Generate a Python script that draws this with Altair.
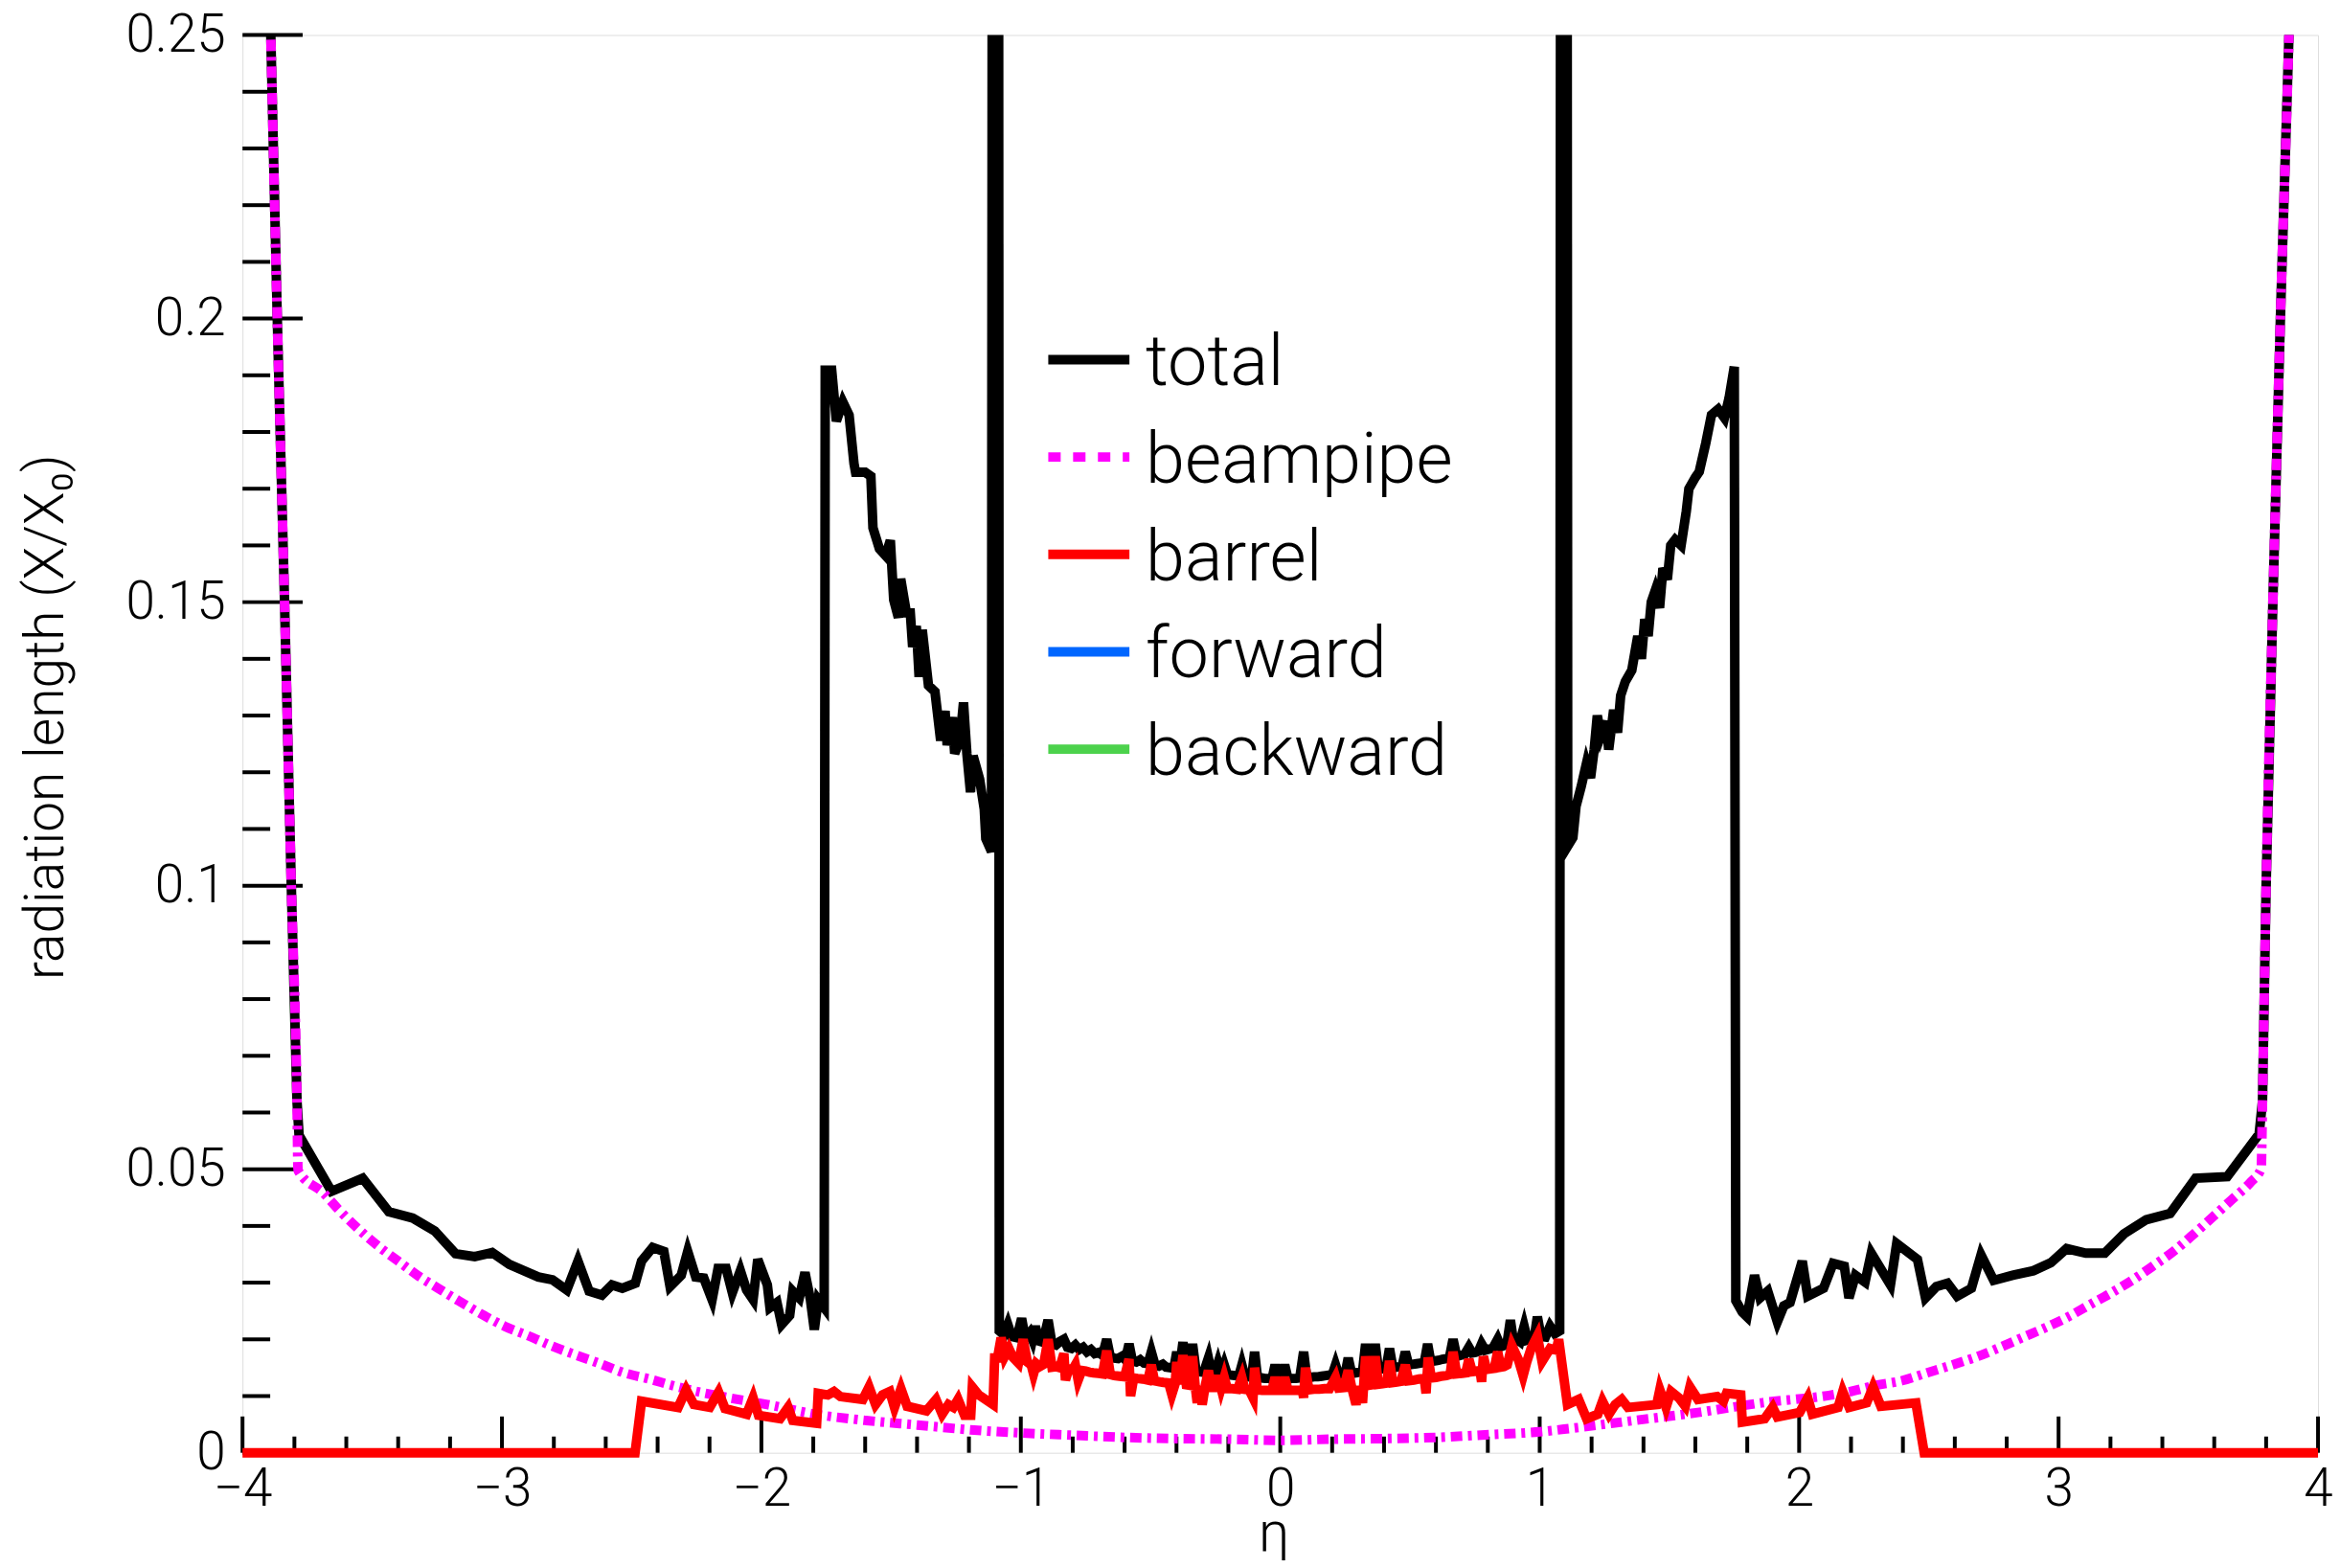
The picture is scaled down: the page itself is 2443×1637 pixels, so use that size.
import altair as alt
import pandas as pd

FONT = "Roboto"

# ---------------- axis ticks ----------------
X_TICK_LABELS = [-4, -3, -2, -1, 0, 1, 2, 3, 4]
X_MINOR = [-3.8, -3.6, -3.4, -3.2, -2.8, -2.6, -2.4, -2.2, -1.8, -1.6, -1.4, -1.2,
           -0.8, -0.6, -0.4, -0.2, 0.2, 0.4, 0.6, 0.8, 1.2, 1.4, 1.6, 1.8,
           2.2, 2.4, 2.6, 2.8, 3.2, 3.4, 3.6, 3.8]
Y_TICK_LABELS = [0, 0.05, 0.1, 0.15, 0.2, 0.25]
Y_MINOR = [0.01, 0.02, 0.03, 0.04, 0.06, 0.07, 0.08, 0.09, 0.11, 0.12, 0.13, 0.14,
           0.16, 0.17, 0.18, 0.19, 0.21, 0.22, 0.23, 0.24]

# ---------------- total (black) ----------------
TOTAL_EDGE_LEFT = [(-3.96, 0.40), (-3.891, 0.25), (-3.866, 0.20), (-3.838, 0.15),
                   (-3.812, 0.10), (-3.790, 0.062)]
TOTAL_LEFT = [(-3.782, 0.0560), (-3.657, 0.0461), (-3.537, 0.0484), (-3.436, 0.0425),
              (-3.344, 0.0414), (-3.259, 0.0391), (-3.179, 0.0351), (-3.105, 0.0346),
              (-3.038, 0.0353), (-2.971, 0.0332), (-2.860, 0.0310), (-2.805, 0.0305),
              (-2.750, 0.0287), (-2.707, 0.0338), (-2.664, 0.0285), (-2.615, 0.0278),
              (-2.576, 0.0296), (-2.536, 0.0290), (-2.486, 0.0299), (-2.462, 0.0338),
              (-2.419, 0.0362), (-2.376, 0.0355), (-2.352, 0.0293), (-2.309, 0.0313),
              (-2.284, 0.0355), (-2.253, 0.0310), (-2.222, 0.0308), (-2.190, 0.0270),
              (-2.167, 0.0325), (-2.136, 0.0325), (-2.112, 0.0282), (-2.081, 0.0321),
              (-2.057, 0.0287), (-2.032, 0.0270), (-2.014, 0.0341), (-1.977, 0.0296),
              (-1.967, 0.0256), (-1.940, 0.0265), (-1.922, 0.0226), (-1.891, 0.0242),
              (-1.879, 0.0285), (-1.854, 0.0273), (-1.832, 0.0318), (-1.811, 0.0270),
              (-1.796, 0.0217), (-1.781, 0.0270), (-1.758, 0.0256)]
TOTAL_PEAK_LEFT = [(-1.754, 0.1909), (-1.729, 0.1909), (-1.711, 0.1819), (-1.686, 0.1853),
                   (-1.662, 0.1830), (-1.643, 0.1744), (-1.637, 0.1729), (-1.600, 0.1729),
                   (-1.578, 0.1722), (-1.570, 0.1631), (-1.545, 0.1594), (-1.521, 0.1582),
                   (-1.503, 0.1609), (-1.490, 0.1504), (-1.472, 0.1473), (-1.463, 0.1541),
                   (-1.441, 0.1481), (-1.426, 0.1481), (-1.417, 0.1421), (-1.403, 0.1458),
                   (-1.392, 0.1368), (-1.380, 0.1451), (-1.356, 0.1353), (-1.331, 0.1342),
                   (-1.309, 0.1256), (-1.292, 0.1308), (-1.284, 0.1248), (-1.264, 0.1297),
                   (-1.255, 0.1233), (-1.235, 0.1256), (-1.221, 0.1323), (-1.208, 0.1233),
                   (-1.194, 0.1165), (-1.184, 0.1229), (-1.159, 0.1188), (-1.141, 0.1135),
                   (-1.135, 0.1083), (-1.113, 0.1060),
                   (-1.108, 0.40), (-1.087, 0.40)]
TOTAL_CENTRAL = [(-1.083, 0.0215), (-1.065, 0.0208), (-1.050, 0.0226), (-1.035, 0.0205),
                 (-1.015, 0.0203), (-0.997, 0.0237), (-0.983, 0.0202), (-0.965, 0.0212),
                 (-0.955, 0.0200), (-0.944, 0.0223), (-0.930, 0.0197), (-0.915, 0.0195),
                 (-0.895, 0.0234), (-0.880, 0.0192), (-0.865, 0.0190), (-0.850, 0.0196),
                 (-0.834, 0.0200), (-0.820, 0.0186), (-0.805, 0.0184), (-0.790, 0.0190),
                 (-0.775, 0.0182), (-0.760, 0.0186), (-0.745, 0.0178), (-0.730, 0.0182),
                 (-0.715, 0.0175), (-0.700, 0.0177), (-0.685, 0.0172), (-0.669, 0.0200),
                 (-0.655, 0.0169), (-0.640, 0.0167), (-0.625, 0.0166), (-0.610, 0.0170),
                 (-0.597, 0.0164), (-0.583, 0.0192), (-0.570, 0.0162), (-0.555, 0.0160),
                 (-0.540, 0.0164), (-0.525, 0.0158), (-0.510, 0.0157), (-0.497, 0.0178),
                 (-0.483, 0.0155), (-0.468, 0.0153), (-0.453, 0.0156), (-0.440, 0.0151),
                 (-0.425, 0.0150), (-0.410, 0.0149), (-0.399, 0.0178), (-0.388, 0.0149),
                 (-0.375, 0.0195), (-0.362, 0.0147), (-0.350, 0.0146), (-0.338, 0.0192),
                 (-0.325, 0.0145), (-0.310, 0.0143), (-0.295, 0.0142), (-0.277, 0.0167),
                 (-0.265, 0.0141), (-0.252, 0.0140), (-0.240, 0.0158), (-0.228, 0.0139),
                 (-0.216, 0.0155), (-0.204, 0.0138), (-0.190, 0.0137), (-0.175, 0.0136),
                 (-0.160, 0.0135), (-0.148, 0.0155), (-0.136, 0.0134), (-0.122, 0.0134),
                 (-0.110, 0.0133), (-0.099, 0.0178), (-0.088, 0.0133), (-0.073, 0.0132),
                 (-0.058, 0.0131), (-0.045, 0.0131), (-0.032, 0.0130), (-0.020, 0.0155),
                 (-0.008, 0.0130), (0.005, 0.0130), (0.017, 0.0155), (0.030, 0.0130),
                 (0.045, 0.0131), (0.060, 0.0131), (0.075, 0.0132), (0.090, 0.0178),
                 (0.102, 0.0133), (0.115, 0.0133), (0.130, 0.0134), (0.145, 0.0134),
                 (0.160, 0.0135), (0.175, 0.0136), (0.190, 0.0137), (0.200, 0.0137),
                 (0.213, 0.0155), (0.225, 0.0138), (0.240, 0.0139), (0.250, 0.0139),
                 (0.262, 0.0167), (0.275, 0.0140), (0.290, 0.0141), (0.305, 0.0142),
                 (0.317, 0.0143), (0.329, 0.0192), (0.342, 0.0145), (0.354, 0.0146),
                 (0.366, 0.0192), (0.378, 0.0147), (0.392, 0.0148), (0.408, 0.0149),
                 (0.421, 0.0184), (0.434, 0.0150), (0.448, 0.0151), (0.462, 0.0152),
                 (0.470, 0.0153), (0.482, 0.0178), (0.495, 0.0155), (0.510, 0.0156),
                 (0.525, 0.0157), (0.540, 0.0158), (0.555, 0.0159), (0.568, 0.0192),
                 (0.580, 0.0161), (0.595, 0.0162), (0.610, 0.0163), (0.625, 0.0165),
                 (0.640, 0.0166), (0.652, 0.0168), (0.666, 0.0200), (0.680, 0.0170),
                 (0.695, 0.0172), (0.710, 0.0173), (0.727, 0.0186), (0.740, 0.0176),
                 (0.752, 0.0177), (0.764, 0.0179), (0.776, 0.0192), (0.790, 0.0181),
                 (0.805, 0.0183), (0.820, 0.0185), (0.838, 0.0200), (0.850, 0.0187),
                 (0.862, 0.0189), (0.875, 0.0196), (0.887, 0.0234), (0.900, 0.0193),
                 (0.912, 0.0200), (0.924, 0.0196), (0.940, 0.0223), (0.953, 0.0199),
                 (0.967, 0.0201), (0.979, 0.0203), (0.991, 0.0240), (1.005, 0.0205),
                 (1.022, 0.0204), (1.040, 0.0223), (1.059, 0.0210), (1.077, 0.0215)]
TOTAL_PEAK_RIGHT = [(1.082, 0.40), (1.104, 0.40),
                    (1.108, 0.1070), (1.128, 0.1085), (1.140, 0.1140), (1.160, 0.1175),
                    (1.180, 0.1215), (1.196, 0.1190), (1.210, 0.1240), (1.222, 0.1300),
                    (1.236, 0.1265), (1.256, 0.1290), (1.266, 0.1240), (1.285, 0.1310),
                    (1.300, 0.1270), (1.312, 0.1335), (1.330, 0.1360), (1.355, 0.1380),
                    (1.378, 0.1440), (1.392, 0.1400), (1.405, 0.1470), (1.418, 0.1440),
                    (1.430, 0.1500), (1.445, 0.1520), (1.462, 0.1490), (1.475, 0.1560),
                    (1.492, 0.1540), (1.505, 0.1600), (1.522, 0.1610), (1.545, 0.1600),
                    (1.565, 0.1660), (1.575, 0.1700), (1.600, 0.1720), (1.615, 0.1730),
                    (1.640, 0.1780), (1.662, 0.1830), (1.688, 0.1840), (1.712, 0.1825),
                    (1.730, 0.1860), (1.750, 0.1915)]
TOTAL_RIGHT = [(1.756, 0.0268), (1.781, 0.0248), (1.799, 0.0240), (1.828, 0.0313),
               (1.849, 0.0273), (1.879, 0.0285), (1.916, 0.0231), (1.941, 0.0259),
               (1.965, 0.0265), (2.012, 0.0338), (2.033, 0.0276), (2.094, 0.0290),
               (2.131, 0.0334), (2.174, 0.0329), (2.192, 0.0273), (2.217, 0.0313),
               (2.254, 0.0301), (2.278, 0.0352), (2.352, 0.0296), (2.376, 0.0369),
               (2.456, 0.0341), (2.487, 0.0273), (2.529, 0.0293), (2.572, 0.0299),
               (2.609, 0.0276), (2.664, 0.0290), (2.701, 0.0349), (2.750, 0.0304),
               (2.823, 0.0313), (2.903, 0.0321), (2.970, 0.0335), (3.031, 0.0360),
               (3.105, 0.0352), (3.178, 0.0352), (3.252, 0.0386), (3.338, 0.0411),
               (3.430, 0.0422), (3.528, 0.0484), (3.650, 0.0487), (3.773, 0.0562)]
TOTAL_EDGE_RIGHT = [(3.786, 0.062), (3.800, 0.10), (3.826, 0.15), (3.855, 0.20),
                    (3.888, 0.25), (3.96, 0.40)]

# ---------------- beampipe (magenta) ----------------
BEAMPIPE_LEFT = [(-3.96, 0.40), (-3.891, 0.25), (-3.866, 0.20), (-3.838, 0.15),
                 (-3.812, 0.10), (-3.790, 0.062), (-3.786, 0.0498), (-3.688, 0.0458),
                 (-3.632, 0.0430), (-3.559, 0.0397), (-3.473, 0.0363), (-3.400, 0.0338),
                 (-3.326, 0.0313), (-3.246, 0.0290), (-3.167, 0.0268), (-3.069, 0.0242),
                 (-2.989, 0.0223), (-2.897, 0.0206), (-2.811, 0.0189), (-2.713, 0.0172),
                 (-2.627, 0.0158), (-2.529, 0.0141), (-2.431, 0.0130), (-2.346, 0.0119),
                 (-2.248, 0.0108), (-2.125, 0.0097), (-1.977, 0.0085), (-1.793, 0.0068),
                 (-1.597, 0.0057), (-1.400, 0.0049), (-1.180, 0.0040), (-1.000, 0.0035)]
BEAMPIPE_CENTRAL = [(-0.804, 0.0031), (-0.595, 0.0027), (-0.399, 0.0025), (-0.203, 0.0024),
                    (0.000, 0.0022), (0.203, 0.0024), (0.399, 0.0025), (0.595, 0.0027),
                    (0.804, 0.0032)]
BEAMPIPE_RIGHT = [(1.000, 0.0037), (1.120, 0.0043), (1.365, 0.0057), (1.610, 0.0071),
                  (1.855, 0.0088), (2.125, 0.0102), (2.199, 0.0108), (2.297, 0.0119),
                  (2.395, 0.0127), (2.493, 0.0141), (2.591, 0.0155), (2.683, 0.0169),
                  (2.775, 0.0186), (2.860, 0.0203), (2.946, 0.0220), (3.038, 0.0240),
                  (3.124, 0.0262), (3.203, 0.0282), (3.283, 0.0304), (3.363, 0.0329),
                  (3.448, 0.0357), (3.522, 0.0386), (3.595, 0.0416), (3.669, 0.0447),
                  (3.742, 0.0478), (3.781, 0.0501), (3.786, 0.062), (3.800, 0.10),
                  (3.826, 0.15), (3.855, 0.20), (3.888, 0.25), (3.96, 0.40)]

# ---------------- barrel (red) ----------------
BARREL_LEFT = [(-4.0, 0.0), (-2.487, 0.0), (-2.462, 0.0091), (-2.321, 0.0080), (-2.290, 0.0111),
               (-2.260, 0.0085), (-2.199, 0.0080), (-2.165, 0.0107), (-2.140, 0.0078),
               (-2.057, 0.0068), (-2.032, 0.0097), (-2.011, 0.0066), (-1.928, 0.0060),
               (-1.897, 0.0080), (-1.879, 0.0057), (-1.787, 0.0052), (-1.781, 0.0105),
               (-1.744, 0.0102), (-1.720, 0.0108), (-1.695, 0.0099), (-1.609, 0.0094),
               (-1.585, 0.0116), (-1.560, 0.0085), (-1.533, 0.0102), (-1.505, 0.0108),
               (-1.487, 0.0080), (-1.462, 0.0113), (-1.438, 0.0082), (-1.364, 0.0074),
               (-1.327, 0.0094), (-1.303, 0.0068), (-1.279, 0.0085), (-1.260, 0.0080),
               (-1.242, 0.0094), (-1.217, 0.0066), (-1.193, 0.0066), (-1.187, 0.0116),
               (-1.162, 0.0102), (-1.107, 0.0085), (-1.101, 0.0167)]
BARREL_CENTRAL = [(-1.090, 0.0167), (-1.076, 0.0203), (-1.062, 0.0170), (-1.046, 0.0184),
                  (-1.030, 0.0168), (-1.009, 0.0158), (-0.991, 0.0200), (-0.975, 0.0160),
                  (-0.960, 0.0155), (-0.951, 0.0139), (-0.940, 0.0157), (-0.927, 0.0152),
                  (-0.912, 0.0156), (-0.895, 0.0200), (-0.880, 0.0151), (-0.865, 0.0152),
                  (-0.850, 0.0150), (-0.834, 0.0175), (-0.828, 0.0128), (-0.815, 0.0148),
                  (-0.800, 0.0147), (-0.790, 0.0155), (-0.779, 0.0128), (-0.765, 0.0145),
                  (-0.750, 0.0144), (-0.735, 0.0142), (-0.720, 0.0141), (-0.700, 0.0140),
                  (-0.685, 0.0139), (-0.669, 0.0180), (-0.655, 0.0138), (-0.640, 0.0136),
                  (-0.620, 0.0135), (-0.600, 0.0134), (-0.583, 0.0165), (-0.577, 0.0100),
                  (-0.565, 0.0132), (-0.550, 0.0131), (-0.530, 0.0130), (-0.510, 0.0128),
                  (-0.497, 0.0155), (-0.485, 0.0127), (-0.465, 0.0125), (-0.450, 0.0124),
                  (-0.430, 0.0123), (-0.418, 0.0103), (-0.405, 0.0122), (-0.399, 0.0160),
                  (-0.388, 0.0121), (-0.375, 0.0172), (-0.362, 0.0120), (-0.350, 0.0119),
                  (-0.338, 0.0170), (-0.328, 0.0118), (-0.320, 0.0088), (-0.310, 0.0117),
                  (-0.301, 0.0085), (-0.290, 0.0116), (-0.277, 0.0145), (-0.265, 0.0115),
                  (-0.250, 0.0115), (-0.240, 0.0136), (-0.228, 0.0114), (-0.216, 0.0133),
                  (-0.204, 0.0113), (-0.185, 0.0113), (-0.165, 0.0112), (-0.148, 0.0133),
                  (-0.136, 0.0112), (-0.120, 0.0111), (-0.105, 0.0097), (-0.099, 0.0150),
                  (-0.088, 0.0111), (-0.070, 0.0110), (-0.050, 0.0110), (-0.032, 0.0110),
                  (-0.020, 0.0133), (-0.008, 0.0110), (0.005, 0.0110), (0.017, 0.0133),
                  (0.030, 0.0110), (0.050, 0.0110), (0.070, 0.0110), (0.085, 0.0111),
                  (0.090, 0.0097), (0.097, 0.0150), (0.110, 0.0111), (0.130, 0.0112),
                  (0.150, 0.0112), (0.170, 0.0113), (0.190, 0.0113), (0.213, 0.0133),
                  (0.225, 0.0114), (0.245, 0.0115), (0.262, 0.0145), (0.275, 0.0116),
                  (0.292, 0.0085), (0.305, 0.0117), (0.317, 0.0088), (0.329, 0.0170),
                  (0.342, 0.0119), (0.354, 0.0120), (0.366, 0.0170), (0.378, 0.0121),
                  (0.395, 0.0122), (0.410, 0.0123), (0.421, 0.0162), (0.434, 0.0124),
                  (0.450, 0.0125), (0.465, 0.0126), (0.482, 0.0155), (0.495, 0.0127),
                  (0.515, 0.0128), (0.535, 0.0130), (0.555, 0.0131), (0.562, 0.0105),
                  (0.570, 0.0168), (0.582, 0.0132), (0.600, 0.0133), (0.620, 0.0135),
                  (0.640, 0.0136), (0.655, 0.0138), (0.666, 0.0178), (0.680, 0.0139),
                  (0.700, 0.0140), (0.715, 0.0141), (0.727, 0.0165), (0.740, 0.0143),
                  (0.755, 0.0144), (0.770, 0.0145), (0.776, 0.0125), (0.783, 0.0170),
                  (0.795, 0.0147), (0.810, 0.0148), (0.825, 0.0149), (0.838, 0.0178),
                  (0.850, 0.0151), (0.862, 0.0152), (0.875, 0.0155), (0.893, 0.0189),
                  (0.918, 0.0164), (0.936, 0.0136), (0.950, 0.0160), (0.967, 0.0184),
                  (0.991, 0.0206), (1.009, 0.0161), (1.040, 0.0184), (1.064, 0.0181),
                  (1.073, 0.0200)]
BARREL_RIGHT = [(1.107, 0.0085), (1.150, 0.0094), (1.181, 0.0060), (1.224, 0.0068),
                (1.242, 0.0091), (1.267, 0.0068), (1.291, 0.0085), (1.316, 0.0094),
                (1.340, 0.0080), (1.451, 0.0085), (1.463, 0.0111), (1.487, 0.0080),
                (1.506, 0.0108), (1.536, 0.0097), (1.561, 0.0082), (1.579, 0.0116),
                (1.610, 0.0094), (1.684, 0.0099), (1.708, 0.0091), (1.720, 0.0105),
                (1.775, 0.0102), (1.781, 0.0054), (1.867, 0.0060), (1.898, 0.0080),
                (1.916, 0.0063), (2.002, 0.0071), (2.033, 0.0097), (2.051, 0.0068),
                (2.150, 0.0080), (2.168, 0.0108), (2.193, 0.0080), (2.260, 0.0088),
                (2.285, 0.0116), (2.315, 0.0082), (2.450, 0.0088), (2.482, 0.0), (4.0, 0.0)]

LEGEND_LABELS = ["total", "beampipe", "barrel", "forward", "backward"]
LEGEND_COLORS = ["#000000", "#ff00ff", "#ff0000", "#0066ff", "#4cd24c"]

W, H = 2174, 1485
LW = 10

X = alt.X("eta:Q",
          scale=alt.Scale(domain=[-4, 4], nice=False, zero=False),
          axis=alt.Axis(values=X_TICK_LABELS, format="d", ticks=False, tickSize=0,
                        domain=False, grid=False, labelFont=FONT, labelFontSize=55,
                        labelFontWeight=300, labelColor="black", labelPadding=12,
                        labelFlush=False, labelOverlap=False,
                        title="η", titleFont=FONT, titleFontSize=58, titleFontWeight=300,
                        titleColor="black", titleX=1080, titleY=102,
                        titleBaseline="alphabetic", titleAlign="center"))
Y = alt.Y("val:Q",
          scale=alt.Scale(domain=[0, 0.25], nice=False, zero=False),
          axis=alt.Axis(values=Y_TICK_LABELS, format="~g", ticks=False, tickSize=0,
                        domain=False, grid=False, labelFont=FONT, labelFontSize=55,
                        labelFontWeight=300, labelColor="black", labelPadding=18,
                        labelFlush=False, labelOverlap=False,
                        title="radiation length (X/X₀)", titleFont=FONT, titleFontSize=57,
                        titleFontWeight=300, titleColor="black", titleAngle=270,
                        titleX=-188, titleY=714, titleBaseline="alphabetic",
                        titleAlign="center"))


def frame(pts):
    df = pd.DataFrame({"eta": [p[0] for p in pts], "val": [p[1] for p in pts]})
    df["i"] = range(len(df))
    return df


def line_layer(pts, color, dash=None, interp="linear", clip=True, width=LW):
    kw = dict(color=color, strokeWidth=width, clip=clip, interpolate=interp)
    if dash:
        kw["strokeDash"] = dash
    return alt.Chart(frame(pts)).mark_line(**kw).encode(x=X, y=Y, order="i:Q")


layers = []
# inside ticks
layers.append(alt.Chart(pd.DataFrame({"val": Y_TICK_LABELS})).mark_rule(color="black", strokeWidth=4)
              .encode(y=Y, x=alt.value(0), x2=alt.value(63)))
layers.append(alt.Chart(pd.DataFrame({"val": Y_MINOR})).mark_rule(color="black", strokeWidth=4)
              .encode(y=Y, x=alt.value(0), x2=alt.value(29)))
layers.append(alt.Chart(pd.DataFrame({"eta": X_TICK_LABELS})).mark_rule(color="black", strokeWidth=4)
              .encode(x=X, y=alt.value(H), y2=alt.value(H - 38)))
layers.append(alt.Chart(pd.DataFrame({"eta": X_MINOR})).mark_rule(color="black", strokeWidth=4)
              .encode(x=X, y=alt.value(H), y2=alt.value(H - 17)))

TOTAL = TOTAL_EDGE_LEFT + TOTAL_LEFT + TOTAL_PEAK_LEFT + TOTAL_CENTRAL + TOTAL_PEAK_RIGHT + TOTAL_RIGHT + TOTAL_EDGE_RIGHT
BEAMPIPE = BEAMPIPE_LEFT + BEAMPIPE_CENTRAL + BEAMPIPE_RIGHT
BARREL = BARREL_LEFT + BARREL_CENTRAL + BARREL_RIGHT

layers.append(line_layer(TOTAL, LEGEND_COLORS[0]))
layers.append(line_layer(BEAMPIPE, LEGEND_COLORS[1], dash=[12, 6, 4, 6], interp="monotone"))
layers.append(line_layer(BARREL, LEGEND_COLORS[2], clip=False))

# legend
dummy = pd.DataFrame({"k": [0]})
for k, (lab, col) in enumerate(zip(LEGEND_LABELS, LEGEND_COLORS)):
    ry = 340 + 102 * k
    rkw = dict(color=col, strokeWidth=LW)
    if lab == "beampipe":
        rkw["strokeDash"] = [13, 13]
    layers.append(alt.Chart(dummy).mark_rule(**rkw)
                  .encode(x=alt.value(844), x2=alt.value(929), y=alt.value(ry)))
    layers.append(alt.Chart(dummy).mark_text(text=lab, align="left", baseline="alphabetic",
                                             font=FONT, fontSize=74, fontWeight=300, color="black")
                  .encode(x=alt.value(946), y=alt.value(ry + 27)))

chart = (alt.layer(*layers)
         .properties(width=W, height=H,
                     autosize=alt.AutoSizeParams(type="none"),
                     padding={"left": 246, "top": 26, "right": 15, "bottom": 110})
         .configure_view(stroke="black", strokeWidth=4)
         .configure(background="white"))

chart.save("out.html", embed_options={"renderer": "svg", "actions": False})
